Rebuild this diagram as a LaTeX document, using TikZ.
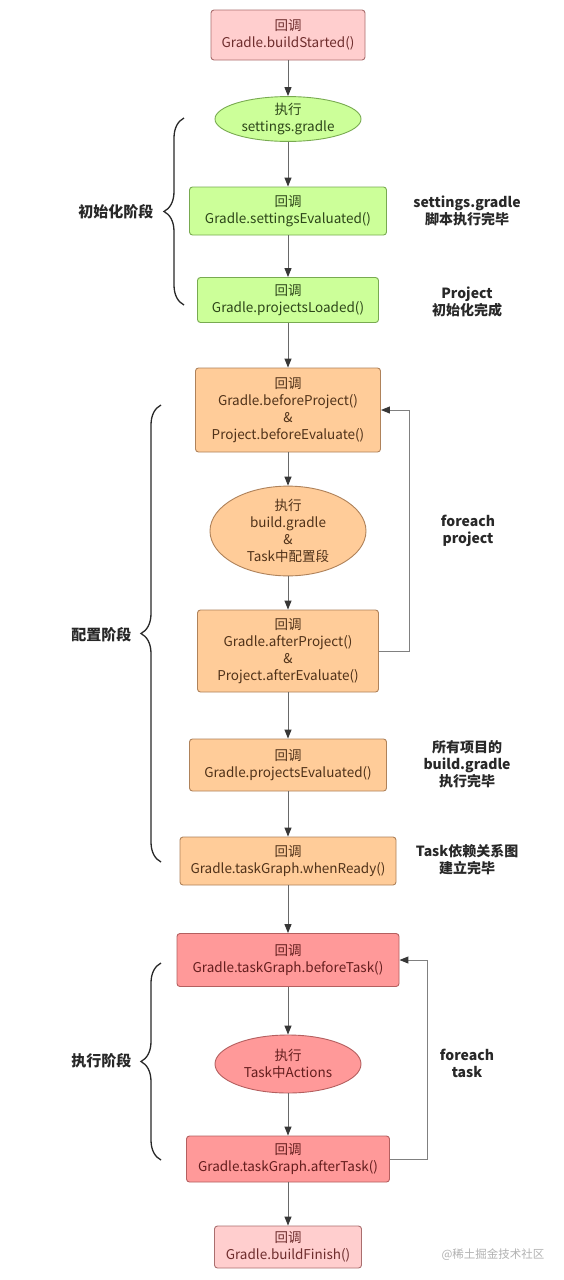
\documentclass[tikz,border=0pt]{standalone}
\usepackage{fontspec}
\setmainfont{Noto Sans CJK SC}
\usetikzlibrary{shapes.geometric,arrows.meta,decorations.pathreplacing}

\definecolor{pkfill}{RGB}{255,206,206}
\definecolor{pkline}{RGB}{170,110,110}
\definecolor{pktext}{RGB}{110,45,45}
\definecolor{grfill}{RGB}{204,255,153}
\definecolor{grline}{RGB}{120,170,80}
\definecolor{grtext}{RGB}{45,70,25}
\definecolor{ogfill}{RGB}{255,204,153}
\definecolor{ogline}{RGB}{175,130,90}
\definecolor{ogtext}{RGB}{80,50,25}
\definecolor{rdfill}{RGB}{255,153,153}
\definecolor{rdline}{RGB}{180,95,95}
\definecolor{rdtext}{RGB}{100,30,30}
\definecolor{flowgray}{RGB}{105,105,105}
\definecolor{tipgray}{RGB}{55,55,55}
\definecolor{notegray}{RGB}{40,40,40}

\begin{document}
\begin{tikzpicture}[x=1pt, y=-1pt,
        font=\fontsize{13.5}{17}\selectfont,
        cb/.style={rectangle, rounded corners=3pt, align=center, inner sep=0pt, line width=0.9pt},
        ov/.style={ellipse, align=center, inner sep=0pt, line width=0.9pt},
        pk/.style={fill=pkfill, draw=pkline, text=pktext},
        gr/.style={fill=grfill, draw=grline, text=grtext},
        og/.style={fill=ogfill, draw=ogline, text=ogtext},
        rd/.style={fill=rdfill, draw=rdline, text=rdtext},
        flow/.style={draw=flowgray, line width=1pt, -{Triangle[length=9pt,width=7pt,color=tipgray]}},
        note/.style={font=\fontsize{14}{17}\selectfont\bfseries, text=notegray, align=center},
        phasetext/.style={font=\fontsize{15}{17}\selectfont\bfseries, text=notegray, anchor=east},
        phase/.style={draw=notegray, line width=1.3pt, decorate, decoration={brace, amplitude=20pt}}
    ]
        \fill[white] (0,0) rectangle (564,1280);
        \useasboundingbox (0,0) rectangle (564,1280);

        % main chain
        \node[cb, pk, minimum width=154, minimum height=50] (bstart) at (288,35) {回调\\Gradle.buildStarted()};
        \node[ov, gr, minimum width=146, minimum height=43] (setg) at (288,119) {执行\\settings.gradle};
        \node[cb, gr, minimum width=197, minimum height=48] (seval) at (288,211) {回调\\Gradle.settingsEvaluated()};
        \node[cb, gr, minimum width=181, minimum height=45] (ploaded) at (288,300) {回调\\Gradle.projectsLoaded()};
        \node[cb, og, minimum width=185, minimum height=84] (befp) at (288,410) {回调\\Gradle.beforeProject()\\\&\\Project.beforeEvaluate()};
        \node[ov, og, minimum width=156, minimum height=79] (buildg) at (288,531) {执行\\build.gradle\\\&\\Task中配置段};
        \node[cb, og, minimum width=181, minimum height=82] (aftp) at (288,651) {回调\\Gradle.afterProject()\\\&\\Project.afterEvaluate()};
        \node[cb, og, minimum width=197, minimum height=52] (peval) at (288,765) {回调\\Gradle.projectsEvaluated()};
        \node[cb, og, minimum width=216, minimum height=48] (ready) at (288,861) {回调\\Gradle.taskGraph.whenReady()};
        \node[cb, rd, minimum width=222, minimum height=53] (beft) at (288,960) {回调\\Gradle.taskGraph.beforeTask()};
        \node[ov, rd, minimum width=146, minimum height=58] (acts) at (288,1064) {执行\\Task中Actions};
        \node[cb, rd, minimum width=203, minimum height=46] (aftt) at (288,1159) {回调\\Gradle.taskGraph.afterTask()};
        \node[cb, pk, minimum width=147, minimum height=42] (bfinish) at (288,1247) {回调\\Gradle.buildFinish()};

        \foreach \a/\b in {bstart/setg, setg/seval, seval/ploaded, ploaded/befp, befp/buildg,
                buildg/aftp, aftp/peval, peval/ready, ready/beft, beft/acts, acts/aftt, aftt/bfinish} {
                \draw[flow] (\a) -- (\b);
            }

        % loops
        \draw[flow, draw=flowgray!85] (aftp.east) -- ++(31,0) |- (befp.east);
        \draw[flow, draw=flowgray!85] (aftt.east) -- ++(38,0) |- (beft.east);

        % phases
        \draw[phase] (184,305) -- (184,118);
        \draw[phase] (161,862) -- (161,405);
        \draw[phase] (161,1160) -- (161,963);
        \node[phasetext] (pinit) at (157,212) {初始化阶段};
        \node[phasetext] (pconf) at (135,635) {配置阶段};
        \node[phasetext] (pexec) at (135,1061) {执行阶段};

        % notes
        \node[note] (n1) at (467,211) {settings.gradle\\脚本执行完毕};
        \node[note] (n2) at (467,302) {Project\\初始化完成};
        \node[note] (n3) at (468,531) {foreach\\project};
        \node[note] (n4) at (467,764) {所有项目的\\build.gradle\\执行完毕};
        \node[note] (n5) at (467,860) {Task依赖关系图\\建立完毕};
        \node[note] (n6) at (467,1063) {foreach\\task};
        \node[font=\fontsize{11.5}{13}\selectfont, text=black!30] (wm) at (493,1255) {@稀土掘金技术社区};
    \end{tikzpicture}
\end{document}
